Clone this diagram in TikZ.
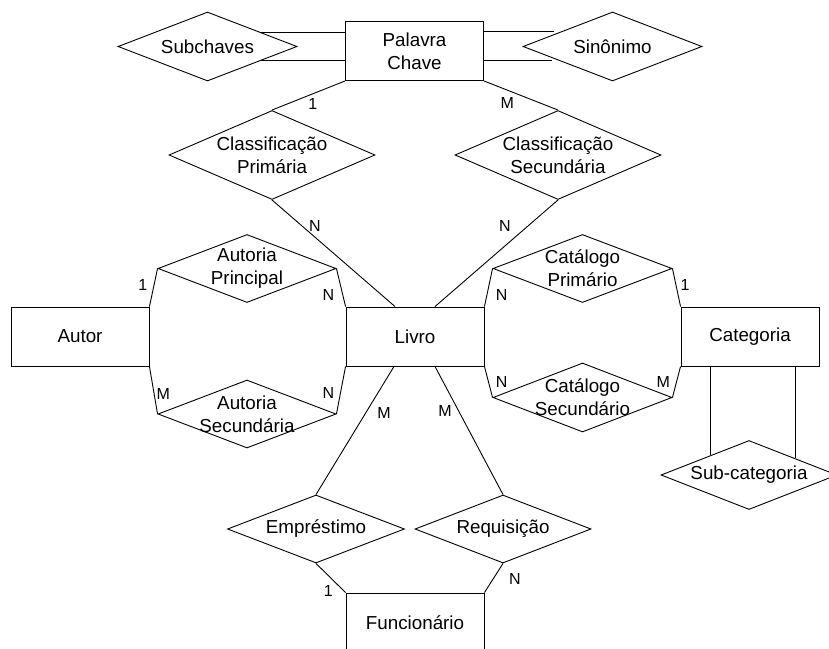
\documentclass[tikz,border=0pt]{standalone}
\usepackage{fontspec}
\setmainfont{Liberation Sans}
\usepackage{tikz}
\usetikzlibrary{shapes.geometric}
\tikzstyle{entity} = [rectangle, minimum width=138pt, minimum height=59pt, inner sep=0pt, text centered, align=center, draw=black, line width=0.9pt, font=\fontsize{18.8}{23}\selectfont]
\tikzstyle{relation} = [diamond, minimum width=178pt, minimum height=68pt, inner sep=0pt, draw=black, line width=0.9pt]
\tikzstyle{rtext} = [align=center, inner sep=0pt, font=\fontsize{18.8}{23}\selectfont]
\tikzstyle{card} = [inner sep=0pt, font=\fontsize{16}{19}\selectfont]
\tikzstyle{line} = [line width=0.9pt]

\begin{document}
\begin{tikzpicture}[x=1pt, y=-1pt]
\path[use as bounding box, fill=white] (0,0) rectangle (829,648);
\clip (0,0) rectangle (829,648);

% Nodes
\node (pc) [entity] at (414.5,51) {Palavra\\Chave};
\node (sub) [relation, minimum width=179pt, minimum height=69pt, label={[rtext]center:Subchaves}] at (207.5,46.5) {};
\node (sin) [relation, minimum width=179pt, minimum height=69pt, label={[rtext]center:Sinônimo}] at (612.5,46.5) {};
\node (cp) [relation, minimum width=206pt, minimum height=89pt, label={[rtext]center:{Classificação\\Primária}}] at (272,155) {};
\node (cs) [relation, minimum width=206pt, minimum height=89pt, label={[rtext]center:{Classificação\\Secundária}}] at (558,155) {};

\node (autor) [entity] at (80,336.5) {Autor};
\node (livro) [entity] at (415,336.5) {Livro};
\node (cat) [entity] at (750,336.5) {Categoria};
\node (func) [entity] at (415,622.5) {Funcionário};

% Autoria / Catalogo
\node (ap) [relation, label={[rtext]center:{Autoria\\Principal}}] at (247,268.5) {};
\node (asec) [relation, label={[rtext]center:{Autoria\\Secundária}}] at (247,414) {};
\node (catp) [relation, minimum width=179pt, label={[rtext]center:{Catálogo\\Primário}}] at (582.5,268.5) {};
\node (cats) [relation, minimum width=179pt, minimum height=69pt, label={[rtext]center:{Catálogo\\Secundário}}] at (582.5,397.5) {};
\node (subcat) [relation, minimum width=176pt, minimum height=69pt, label={[rtext]center:Sub-categoria}] at (749,475) {};
\node (emp) [relation, minimum width=177pt, label={[rtext]center:Empréstimo}] at (316,529) {};
\node (req) [relation, minimum width=176pt, label={[rtext]center:Requisição}] at (503,529) {};

% Cardinalities
\node (c1) [card] at (312.7,104.3) {1};
\node (c2) [card] at (507.3,103.3) {M};
\node (c3) [card] at (315,226) {N};
\node (c4) [card] at (505,226) {N};
\node (c5) [card] at (142.7,285) {1};
\node (c6) [card] at (328.3,295) {N};
\node (c7) [card] at (163.3,394) {M};
\node (c8) [card] at (328.3,393.3) {N};
\node (c9) [card] at (501.7,295) {N};
\node (c10) [card] at (685,285) {1};
\node (c11) [card] at (501.7,381.7) {N};
\node (c12) [card] at (663.3,381.7) {M};
\node (c13) [card] at (384,413) {M};
\node (c14) [card] at (445,411) {M};
\node (c15) [card] at (328.3,590.7) {1};
\node (c16) [card] at (515,579.3) {N};

% Lines
\draw [line] (sub.15.6) -- (sub.15.6 -| pc.west);
\draw [line] (sub.-15.6) -- (sub.-15.6 -| pc.west);
\draw [line, shorten >=7pt] (sin.164.4 -| pc.east) -- (sin.164.4);
\draw [line, shorten >=7pt] (sin.195.6 -| pc.east) -- (sin.195.6);
\draw [line] (pc.south west) -- (cp.north);
\draw [line] (pc.south east) -- (cs.north);
\draw [line] (cp.south) -- ([xshift=-20pt]livro.north);
\draw [line] (cs.south) -- ([xshift=20pt]livro.north);

\draw [line] (autor.north east) -- (ap.west);
\draw [line] (ap.east) -- (livro.north west);
\draw [line] (autor.south east) -- (asec.west);
\draw [line] (asec.east) -- (livro.south west);

\draw [line] (livro.north east) -- (catp.west);
\draw [line] (catp.east) -- (cat.north west);
\draw [line] (livro.south east) -- (cats.west);
\draw [line] (cats.east) -- (cat.south west);

\draw [line] (subcat.153.8) -- (subcat.153.8 |- cat.south);
\draw [line] (subcat.20.6) -- (subcat.20.6 |- cat.south);

\draw [line] ([xshift=-21pt]livro.south) -- (emp.north);
\draw [line] ([xshift=20pt]livro.south) -- (req.north);
\draw [line] (emp.south) -- (func.north west);
\draw [line] (req.south) -- (func.north east);

\end{tikzpicture}
\end{document}
